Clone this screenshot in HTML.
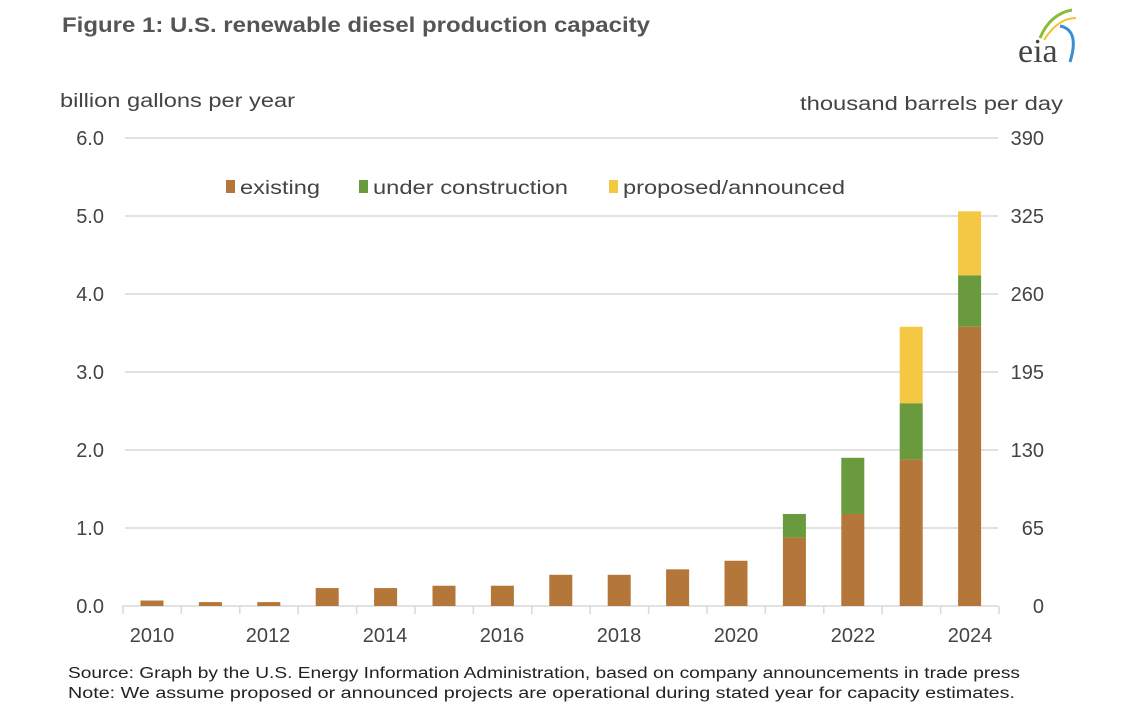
<!DOCTYPE html>
<html><head><meta charset="utf-8"><style>
body{margin:0;background:#fff;width:1127px;height:720px;overflow:hidden;font-family:"Liberation Sans",sans-serif}
</style></head><body>
<svg width="1127" height="720" xmlns="http://www.w3.org/2000/svg" font-family="Liberation Sans, sans-serif">
<text x="62" y="32" font-size="21" font-weight="bold" fill="#555" textLength="588" lengthAdjust="spacingAndGlyphs">Figure 1:  U.S. renewable diesel production capacity</text>
<path d="M1040 38 Q1050 14 1072 10" stroke="#8bbd3a" stroke-width="3" fill="none"/>
<path d="M1044 40 Q1058 18 1076 18" stroke="#f2c230" stroke-width="2" fill="none"/>
<path d="M1060 26 Q1080 30 1070 62" stroke="#3a8fd0" stroke-width="3" fill="none"/>
<text x="1018" y="62" font-size="34" fill="#444" font-family="Liberation Serif, serif">eia</text>
<text x="60" y="107" font-size="19" fill="#444" textLength="235" lengthAdjust="spacingAndGlyphs">billion gallons per year</text>
<text x="800" y="110" font-size="19" fill="#444" textLength="263" lengthAdjust="spacingAndGlyphs">thousand barrels per day</text>
<g stroke="#d9d9d9" stroke-width="1.5">
<line x1="125" y1="138" x2="998" y2="138"/><line x1="125" y1="216" x2="998" y2="216"/>
<line x1="125" y1="294" x2="998" y2="294"/><line x1="125" y1="372" x2="998" y2="372"/>
<line x1="125" y1="450" x2="998" y2="450"/><line x1="125" y1="528" x2="998" y2="528"/>
<line x1="122" y1="606" x2="998" y2="606"/>
</g>
<g font-size="20" fill="#444" text-anchor="end">
<text x="104" y="145">6.0</text><text x="104" y="223">5.0</text><text x="104" y="301">4.0</text>
<text x="104" y="379">3.0</text><text x="104" y="457">2.0</text><text x="104" y="535">1.0</text><text x="104" y="613">0.0</text>
</g>
<g font-size="20" fill="#444" text-anchor="end">
<text x="1044" y="145">390</text><text x="1044" y="223">325</text><text x="1044" y="301">260</text>
<text x="1044" y="379">195</text><text x="1044" y="457">130</text><text x="1044" y="535">65</text><text x="1044" y="613">0</text>
</g>
<rect x="226" y="180" width="9" height="13" fill="#b5763a"/><text x="240" y="194" font-size="19" fill="#444" textLength="80" lengthAdjust="spacingAndGlyphs">existing</text>
<rect x="359" y="180" width="9" height="13" fill="#6a9a3e"/><text x="373" y="194" font-size="19" fill="#444" textLength="195" lengthAdjust="spacingAndGlyphs">under construction</text>
<rect x="609" y="180" width="9" height="13" fill="#f4c842"/><text x="623" y="194" font-size="19" fill="#444" textLength="222" lengthAdjust="spacingAndGlyphs">proposed/announced</text>
<g id="bars"></g>
<g id="ticks" stroke="#d9d9d9" stroke-width="1.5"></g>
<g font-size="20" fill="#444" text-anchor="middle">
<text x="152" y="642">2010</text><text x="268" y="642">2012</text><text x="385" y="642">2014</text>
<text x="502" y="642">2016</text><text x="619" y="642">2018</text><text x="736" y="642">2020</text>
<text x="853" y="642">2022</text><text x="970" y="642">2024</text>
</g>
<text x="68" y="678" font-size="15.5" fill="#222" textLength="952" lengthAdjust="spacingAndGlyphs">Source: Graph by the U.S. Energy Information Administration, based on company announcements in trade press</text>
<text x="68" y="698" font-size="15.5" fill="#222" textLength="947" lengthAdjust="spacingAndGlyphs">Note: We assume proposed or announced projects are operational during stated year for capacity estimates.</text>
<script>
var d=[[0.07,0,0],[0.05,0,0],[0.05,0,0],[0.23,0,0],[0.23,0,0],[0.26,0,0],[0.26,0,0],[0.4,0,0],[0.4,0,0],[0.47,0,0],[0.58,0,0],[0.88,0.3,0],[1.18,0.72,0],[1.88,0.72,0.98],[3.58,0.66,0.82]];
var c=["#b5763a","#6a9a3e","#f4c842"],ns="http://www.w3.org/2000/svg",g=document.getElementById("bars"),t=document.getElementById("ticks");
for(var i=0;i<15;i++){var cx=152+i*58.4,y=606;for(var k=0;k<3;k++){var h=d[i][k]*78;if(h<=0)continue;var r=document.createElementNS(ns,"rect");r.setAttribute("x",cx-11.5);r.setAttribute("width",23);r.setAttribute("y",y-h);r.setAttribute("height",h);r.setAttribute("fill",c[k]);g.appendChild(r);y-=h;}}
for(var i=0;i<=15;i++){var x=123+i*58.4;var l=document.createElementNS(ns,"line");l.setAttribute("x1",x);l.setAttribute("x2",x);l.setAttribute("y1",606);l.setAttribute("y2",614);t.appendChild(l);}
</script>
</svg>
</body></html>
